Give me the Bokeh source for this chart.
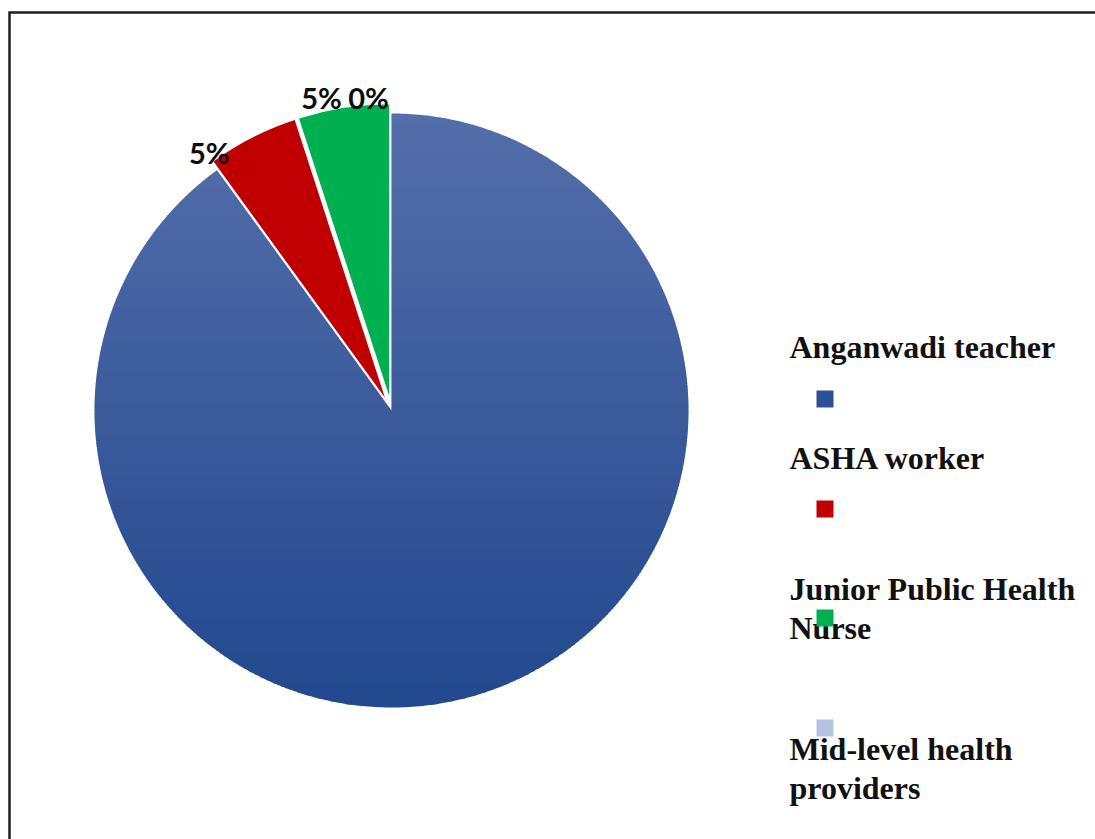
import textwrap
import numpy as np
from bokeh.plotting import figure
from bokeh.models import Range1d
from bokeh.core.properties import value
from bokeh.embed import file_html
from bokeh.resources import INLINE

# ---------------- data ----------------
categories = ["Anganwadi teacher", "ASHA worker", "Junior Public Health Nurse",
              "Mid-level health providers"]
percent = [90, 5, 5, 0]
show_label = [False, True, True, True]
colors = ["#2c5094", "#c00000", "#00b050", "#b4c2e2"]

# ---------------- layout ----------------
W, H = 1095, 839
TEXT_SHIFT = 10  # baseline correction for text rendering
def px(x):  # page x -> data x
    return x
def py(y):  # page y -> data y
    return H - y

cx, cy, R = px(391), py(410), 297.0
explode = [0, 10, 10, 10]
grad_top = np.array([84, 110, 170])
grad_bot = np.array([34, 72, 142])
label_angle_deg = [None, 125.2, 102.6, 94.2]
label_dist = [None, 316, 321, 314]
label_font = "29px"
legend_x = px(789)
legend_first_baseline = [356, 467, 598, 758]
legend_line_gap = 39
legend_square_top = [390, 500, 609, 719]
legend_square_cx = 824.5
sq = 17

p = figure(width=W, height=H, x_range=Range1d(0, W), y_range=Range1d(0, H),
           min_border=0, toolbar_location=None, output_backend="svg",
           x_axis_location=None, y_axis_location=None)
p.grid.visible = False
p.outline_line_color = None
p.background_fill_color = "white"
p.border_fill_color = "white"

# ---------------- pie ----------------
vals = np.array(percent, dtype=float)
frac = vals / vals.sum()
cum = np.concatenate([[0.0], np.cumsum(frac)])
# clockwise from 12 o'clock -> anticlock start/end angles (degrees)
starts = 90 - 360 * cum[1:]
ends = 90 - 360 * cum[:-1]


def clip(poly, y, keep_above):
    out = []
    n = len(poly)
    for i in range(n):
        P = poly[i]
        Q = poly[(i + 1) % n]
        pin = P[1] >= y if keep_above else P[1] <= y
        qin = Q[1] >= y if keep_above else Q[1] <= y
        if pin:
            out.append(P)
        if pin != qin:
            t = (y - P[1]) / (Q[1] - P[1])
            out.append((P[0] + t * (Q[0] - P[0]), y))
    return out


# first slice (gradient fill) as horizontal strips of its sector polygon
a = np.radians(np.linspace(starts[0], ends[0], 500))
sector = [(cx, cy)] + [(cx + R * np.cos(t), cy + R * np.sin(t)) for t in a]
xs, ys, fc = [], [], []
step = 3.0
y0 = cy - R
while y0 < cy + R:
    y1 = min(y0 + step + 0.8, cy + R)
    poly = clip(clip(sector, y0, True), y1, False)
    if len(poly) >= 3:
        xs.append([q[0] for q in poly])
        ys.append([q[1] for q in poly])
        tt = (cy + R - (y0 + y1) / 2) / (2 * R)
        c = grad_top + (grad_bot - grad_top) * tt
        fc.append("#%02x%02x%02x" % tuple(int(round(v)) for v in c))
    y0 += step
p.patches(xs, ys, fill_color=fc, line_color=None)

# other slices, exploded
for i in range(1, len(percent)):
    if ends[i] - starts[i] <= 0:
        continue
    mid = np.radians((starts[i] + ends[i]) / 2)
    ox = cx + explode[i] * np.cos(mid)
    oy = cy + explode[i] * np.sin(mid)
    p.wedge(x=[ox], y=[oy], radius=R, start_angle=np.radians(starts[i]),
            end_angle=np.radians(ends[i]), direction="anticlock",
            fill_color=colors[i], line_color="white", line_width=1.5)

# data labels
lx, ly, lt = [], [], []
for i in range(len(percent)):
    if not show_label[i]:
        continue
    ang = np.radians(label_angle_deg[i])
    lx.append(cx + label_dist[i] * np.cos(ang))
    ly.append(cy + label_dist[i] * np.sin(ang) - 10 + TEXT_SHIFT)
    lt.append(f"{percent[i]}%")
p.text(x=lx, y=ly, text=lt, text_font=value("Lato"), text_font_style="bold",
       text_font_size=label_font, text_align="center", text_baseline="alphabetic",
       text_color="#0d0d0d")

# ---------------- legend ----------------
tx, ty, tt_ = [], [], []
for i, cat in enumerate(categories):
    for j, line in enumerate(textwrap.wrap(cat, 20)):
        tx.append(legend_x)
        ty.append(py(legend_first_baseline[i] + j * legend_line_gap) + TEXT_SHIFT)
        tt_.append(line)
p.text(x=tx, y=ty, text=tt_, text_font=value("Liberation Serif"), text_font_style="bold",
       text_font_size="32px", text_align="left", text_baseline="alphabetic",
       text_color="#111111")
p.rect(x=[px(legend_square_cx)] * len(categories),
       y=[py(t + sq / 2) for t in legend_square_top],
       width=sq, height=sq, fill_color=colors, line_color=None)

# ---------------- frame lines ----------------
p.line(x=[px(9), px(9), W + 10], y=[-10, py(12), py(12)],
       line_color="#1e1e1e", line_width=2.5, line_join="miter")

open("out.html", "w").write(file_html(p, INLINE))
